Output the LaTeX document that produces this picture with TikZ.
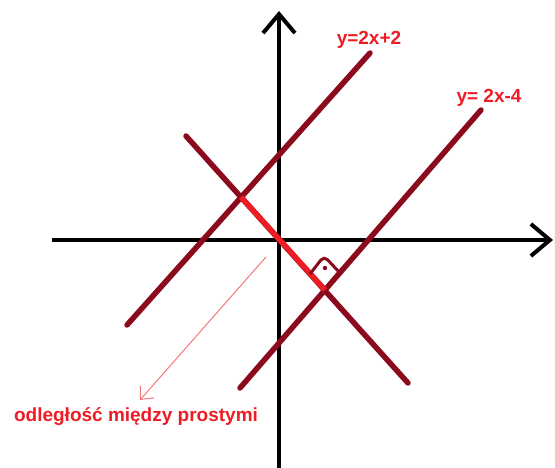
\documentclass[tikz,border=0pt]{standalone}
\usepackage{fontspec}
\setmainfont{Liberation Sans}
\usetikzlibrary{arrows.meta}
\definecolor{maroon}{HTML}{8B0A1E}
\definecolor{paintred}{HTML}{ED1C24}
\begin{document}
\begin{tikzpicture}[x=1pt,y=-1pt,
  axis/.style={line width=4pt,black,-{Straight Barb[length=19pt,width=32pt]}},
  prosta/.style={line width=5.5pt,maroon,line cap=round},
  odcinek/.style={line width=5.5pt,paintred},
  lbl/.style={font=\bfseries\fontsize{19}{21}\selectfont,text=paintred,inner sep=0pt}]
\useasboundingbox (0,0) rectangle (555,468);
% osie
\coordinate (xl) at (52,240);
\coordinate (xr) at (553,240);
\coordinate (yd) at (279,468);
\coordinate (yu) at (279,11);
\draw[axis] (xl) -- (xr);
\draw[axis] (yd) -- (yu);
% proste
\coordinate (a1) at (127,325);
\coordinate (a2) at (370,53);
\coordinate (b1) at (240,388);
\coordinate (b2) at (481,110);
\coordinate (p1) at (186,136);
\coordinate (p2) at (408,383);
\coordinate (s1) at (241,197);
\coordinate (s2) at (325,290);
\draw[prosta] (a1) -- (a2);
\draw[prosta] (b1) -- (b2);
\draw[prosta] (p1) -- (p2);
\draw[odcinek] (s1) -- (s2);
% kat prosty
\coordinate (k1) at (310,274);
\coordinate (k2) at (324,256);
\coordinate (k3) at (340,273);
\draw[maroon,line width=3pt,rounded corners=5pt] (k1) -- (k2) -- (k3);
\fill[maroon] (325,268) circle (2.2pt);
% opisy
\node[lbl] (f1) at (369,40) {y=2x+2};
\node[lbl] (f2) at (489,98) {y= 2x-4};
\node[lbl] (opis) at (136,417) {odległość między prostymi};
\coordinate (start) at (266,257);
\coordinate (koniec) at (140,400);
\draw[paintred!60,line width=1pt,-{Straight Barb[length=10pt,width=18pt]}] (start) -- (koniec);
\end{tikzpicture}
\end{document}
